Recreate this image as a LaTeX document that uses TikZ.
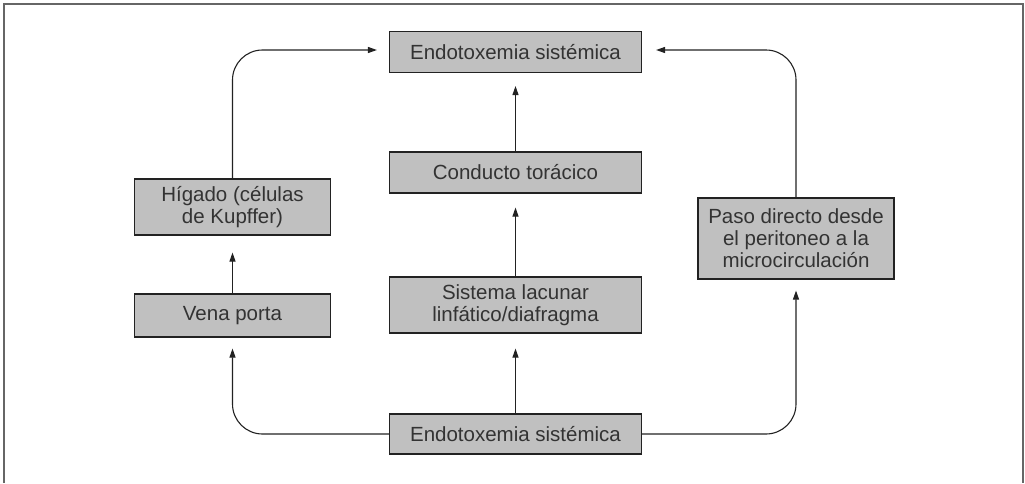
\documentclass[tikz,border=0pt]{standalone}
\usepackage{fontspec}
\setmainfont{Liberation Sans}
\usetikzlibrary{arrows.meta}
\definecolor{boxfill}{HTML}{C0C0C0}
\definecolor{edge}{HTML}{222222}
\definecolor{frame}{HTML}{666666}
\begin{document}
\begin{tikzpicture}[x=1pt,y=-1pt,
  flowbox/.style={draw=edge,line width=1.1pt,fill=boxfill,rectangle,inner sep=0pt,align=center,
    font=\fontsize{20.5}{22}\selectfont,text=black!80},
  conn/.style={draw=edge,line width=1.1pt,-{Triangle[length=9pt,width=6pt]}},
  ]
\useasboundingbox (0,0) rectangle (1025,483);
\draw[frame,line width=1.6pt] (4,483) -- (4,4) -- (1023,4) -- (1023,483);

\node[flowbox,minimum width=252pt,minimum height=41pt] (top) at (515.5,52) {Endotoxemia sistémica};
\node[flowbox,minimum width=252pt,minimum height=41pt] (cond) at (515.5,172.5) {Conducto torácico};
\node[flowbox,minimum width=252pt,minimum height=56pt] (sist) at (515.5,305) {Sistema lacunar\\linfático/diafragma};
\node[flowbox,minimum width=252pt,minimum height=40pt] (bot) at (515.5,434) {Endotoxemia sistémica};
\node[flowbox,minimum width=196pt,minimum height=56pt] (hig) at (232.5,207) {Hígado (células\\de Kupffer)};
\node[flowbox,minimum width=196pt,minimum height=43pt] (vena) at (232.5,315.5) {Vena porta};
\node[flowbox,minimum width=196pt,minimum height=81pt] (paso) at (796,238.5) {Paso directo desde\\el peritoneo a la\\microcirculación};

\draw[conn,shorten >=13pt] (cond.north) -- (top.south);
\draw[conn,shorten >=14pt] (sist.north) -- (cond.south);
\draw[conn,shorten >=15pt] (bot.north) -- (sist.south);
\draw[conn,shorten >=17pt] (vena.north) -- (hig.south);
\draw[conn,rounded corners=30pt,shorten >=12pt] (hig.north) |- ([yshift=2pt]top.west);
\draw[conn,rounded corners=30pt,shorten >=14pt] (paso.north) |- ([yshift=2pt]top.east);
\draw[conn,rounded corners=30pt,shorten >=11pt] (bot.west) -| (vena.south);
\draw[conn,rounded corners=30pt,shorten >=11pt] (bot.east) -| (paso.south);
\end{tikzpicture}
\end{document}
